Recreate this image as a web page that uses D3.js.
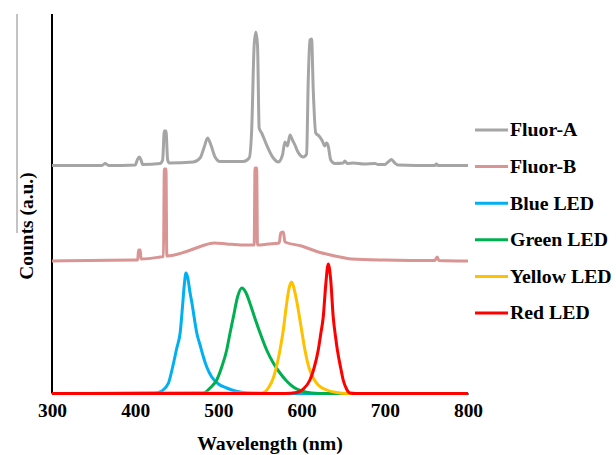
<!DOCTYPE html>
<html>
<head>
<meta charset="utf-8">
<script src="https://cdn.jsdelivr.net/npm/d3@7"></script>
<style>
  body { margin: 0; background: #fff; }
  svg { display: block; }
</style>
</head>
<body>
<svg id="chart" width="616" height="455"></svg>
<script>
// wavelength (nm), counts (a.u., curves are offset-stacked like the original)
var fluorA = [[300,228],[360,228],[364,230],[368,228],[400,228.5],[403,234.5],[405,236.5],[407,233.5],[409,229],
  [430,230],[433,233.5],[435,262.5],[437,262.5],[439,233.5],[441,230.5],[470,231.5],[478,235.5],[483,246.5],
  [487,255.5],[491,248.5],[496,236.5],[502,232],[530,232],[537,235.5],[540,263.5],[543,348.5],[545,361.5],
  [547,348.5],[549,265.5],[552,260.5],[558,248.5],[566,235.5],[572,231.5],[577,238.5],[580,251.5],[583,247.5],
  [586,258.5],[589,253.5],[592,248.5],[595,242.5],[598,238.5],[602,236.5],[606,239.5],[608,313.5],[610,353.5],
  [612,354.5],[614,303.5],[617,260.5],[621,257.5],[625,252.5],[628,247.5],[630,250.5],[632,247.5],[635,233.5],
  [640,230],[650,230.5],[652,232.5],[655,230],[662,230.5],[675,229.5],[688,230],[692,229],[700,229],
  [704,231.5],[708,234],[712,230.5],[716,228.5],[760,228],[762,229.5],[764,228],[800,228]];

var fluorB = [[300,132.5],[400,133.5],[403,133.5],[404,143.5],[406,143.5],[407,134.5],[430,136.5],[434,137],
  [435,224.5],[437,224.5],[438,137.5],[460,141.5],[480,147.5],[495,150.5],[510,149.5],[530,148.5],[543,148.5],
  [544,225.5],[546,225.5],[547,148.5],[560,149.5],[573,150.5],[575,160.5],[578,161.5],[580,151.5],[600,147.5],
  [620,141.5],[640,137.5],[660,134.5],[700,133.5],[760,133],[763,136.5],[765,133],[800,132.5]];

var blueLED = [[300,0],[425,0.5],[432,2.5],[440,10.5],[445,26.5],[450,45.5],[454,60.5],[457,88.5],[459,108.5],
  [461,120.5],[463,116.5],[466,100.5],[468,91.5],[471,75.5],[474,60.5],[478,48.5],[482,36.5],[486,26.5],
  [492,16.5],[500,9.5],[510,5.5],[520,2.5],[535,0.5],[560,0],[800,0]];

var greenLED = [[300,0],[482,0.5],[490,5.5],[498,13.5],[504,26.5],[510,43.5],[514,60.5],[518,76.5],[523,96.5],
  [528,105.5],[533,101],[538,90],[544,75],[551,58.5],[558,43.5],[566,30.5],[574,20.5],[582,12.5],
  [590,6.5],[600,2.5],[612,0.5],[630,0],[800,0]];

var yellowLED = [[300,0],[552,0.5],[560,5.5],[566,15.5],[570,27.5],[574,43.5],[578,63.5],[581,83.5],[585,105.5],
  [588,111.5],[591,104.5],[595,88.5],[599,68.5],[604,43.5],[609,25.5],[614,15.5],[620,8.5],[630,3.5],
  [642,1],[655,0],[800,0]];

var redLED = [[300,0],[580,0],[594,1],[602,4.5],[610,13.5],[615,25.5],[620,43.5],[623,59.5],[626,76.5],
  [629,108.5],[632,129.5],[635,113.5],[638,76.5],[641,55.5],[643,43.5],[647,25.5],[650,13.5],[654,4.5],
  [658,0.5],[665,0],[800,0]];

var names = ["Fluor-A", "Fluor-B", "Blue LED", "Green LED", "Yellow LED", "Red LED"];
var colors = ["#a5a5a5", "#d99594", "#00b0f0", "#00b050", "#ffc000", "#ff0000"];
var xTicks = [300, 400, 500, 600, 700, 800];

var series = [fluorA, fluorB, blueLED, greenLED, yellowLED, redLED];

var serif = "\"Liberation Serif\"";

var svg = d3.select("#chart");

var x = d3.scaleLinear().domain([300, 800]).range([52, 468]);
var y = d3.scaleLinear().domain([0, 380]).range([393.5, 13.5]);

// stray frame edge left of the y title in the original
svg.append("line")
  .attr("x1", 17).attr("x2", 17).attr("y1", 14).attr("y2", 233)
  .attr("stroke", "#888").attr("stroke-width", 1);

// x axis (labels only)
var xAxis = g => g
  .attr("transform", `translate(0,${y(0)})`)
  .attr("font-family", null)
  .call(d3.axisBottom(x).tickValues(xTicks).tickSize(0).tickPadding(11))
  .call(g => g.select(".domain").attr("stroke", "#000").attr("stroke-width", 2))
  .call(g => g.selectAll("text")
      .style("font-family", serif)
      .style("font-weight", "bold")
      .style("font-size", "18px")
      .attr("fill", "#000")
      .attr("transform", "scale(1.08,1)"));

svg.append("g").call(xAxis);

// y axis line only
svg.append("line")
  .attr("x1", 52).attr("x2", 52).attr("y1", 14).attr("y2", y(0))
  .attr("stroke", "#000").attr("stroke-width", 2);

var line = d3.line()
  .x(d => x(d[0]))
  .y(d => y(d[1]))
  .curve(d3.curveMonotoneX);

svg.append("g")
  .attr("fill", "none")
  .attr("stroke-width", 3)
  .attr("stroke-linejoin", "round")
  .selectAll("path")
  .data(series)
  .join("path")
    .attr("stroke", (d, i) => colors[i])
    .attr("d", line);

// axis titles
svg.append("text")
  .attr("x", 270).attr("y", 450)
  .attr("text-anchor", "middle")
  .style("font-family", serif).style("font-weight", "bold").style("font-size", "18px")
  .attr("transform", "translate(270,0) scale(1.1,1) translate(-270,0)")
  .text("Wavelength (nm)");

svg.append("text")
  .attr("transform", "translate(33,226) rotate(-90) scale(1.08,1)")
  .attr("text-anchor", "middle")
  .style("font-family", serif).style("font-weight", "bold").style("font-size", "18px")
  .text("Counts (a.u.)");

// legend
var legend = svg.append("g")
  .selectAll("g")
  .data(names)
  .join("g")
    .attr("transform", (d, i) => `translate(475,${130 + i * 36.6})`);

legend.append("line")
  .attr("x1", 0).attr("x2", 33)
  .attr("stroke", (d, i) => colors[i])
  .attr("stroke-width", 3);

legend.append("text")
  .attr("x", 35).attr("dy", "0.35em")
  .style("font-family", serif).style("font-weight", "bold").style("font-size", "18px")
  .attr("transform", "translate(35,0) scale(1.1,1) translate(-35,0)")
  .text(d => d);
</script>
</body>
</html>
